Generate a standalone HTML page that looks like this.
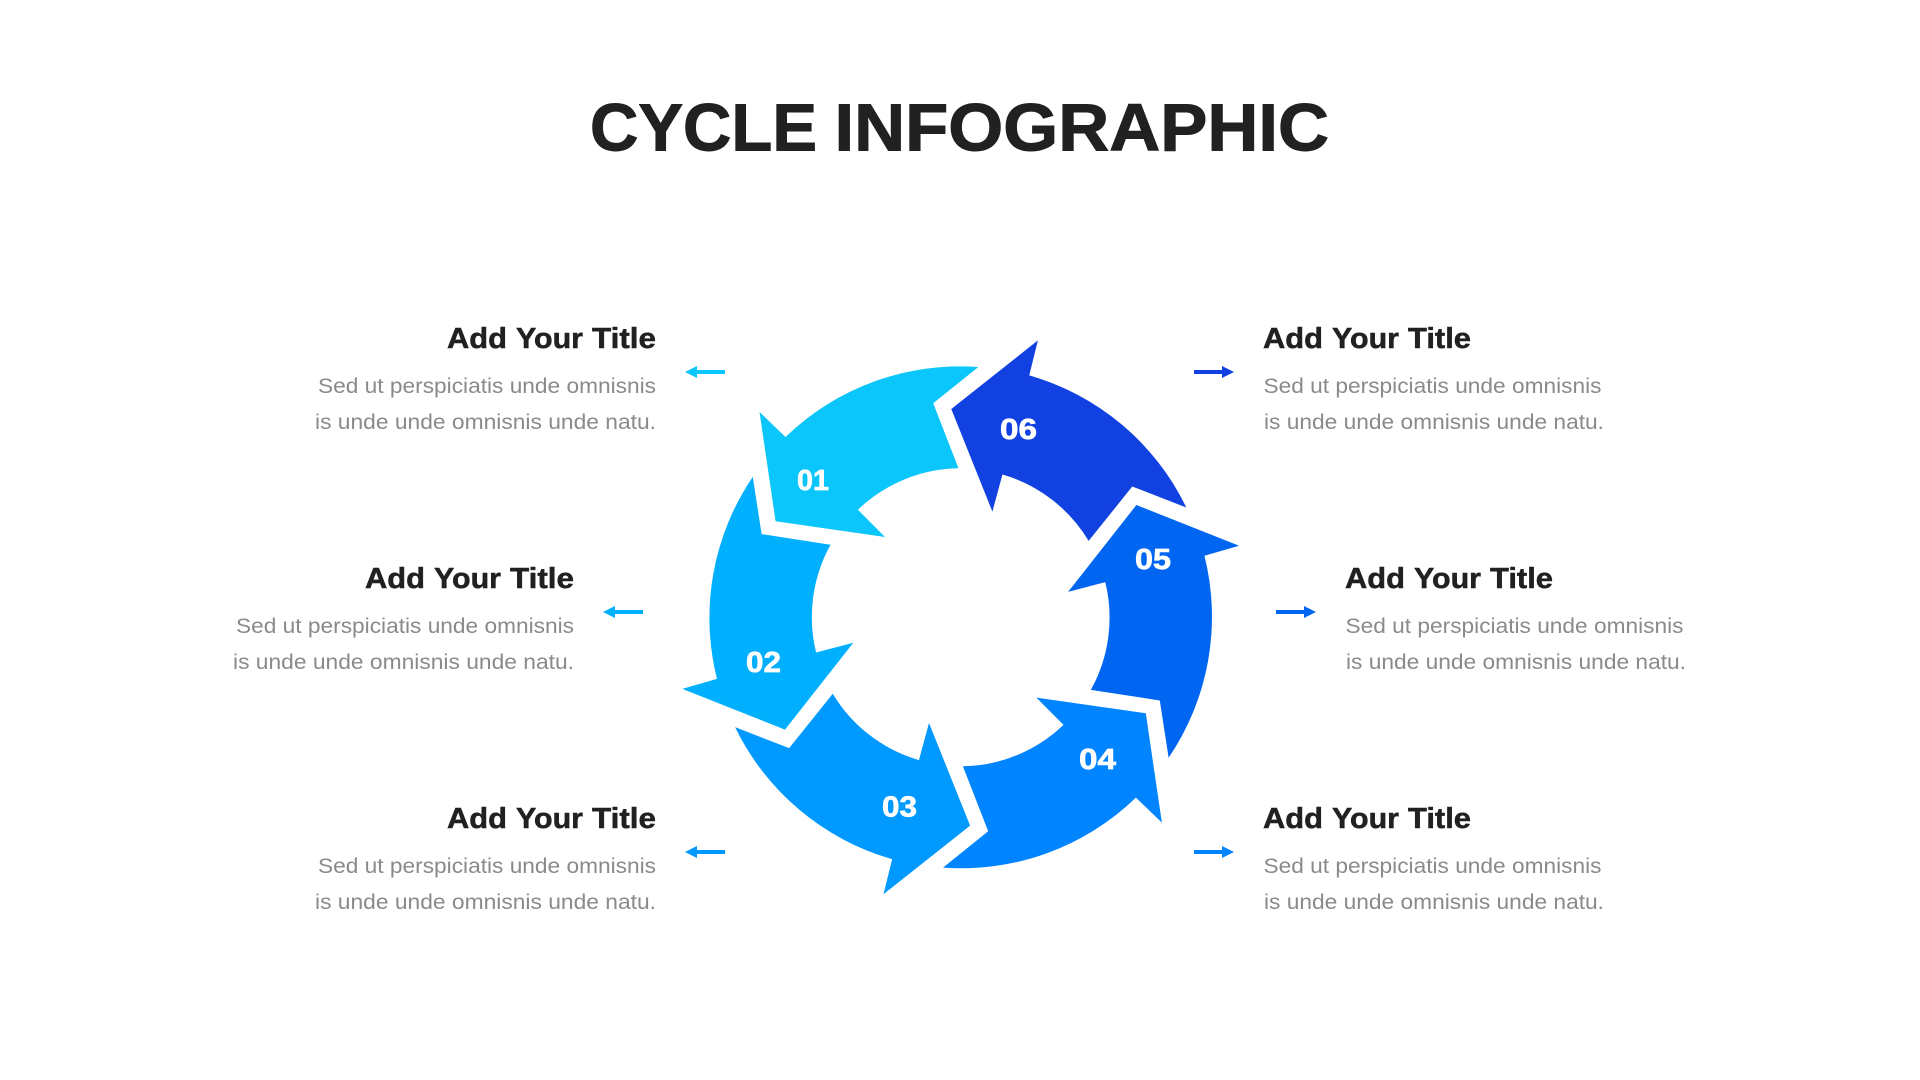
<!DOCTYPE html>
<html lang="en">
<head>
<meta charset="utf-8">
<title>Cycle Infographic</title>
<style>
html,body{margin:0;padding:0;background:#fff;width:1920px;height:1080px;overflow:hidden}
svg{display:block}
text{font-family:"Liberation Sans",sans-serif}
.t{font-size:67px;font-weight:bold;fill:#212121;stroke:#212121;stroke-width:1px}
.h{font-size:29px;font-weight:bold;fill:#212121;stroke:#212121;stroke-width:.5px}
.b{font-size:21.5px;fill:#8a8a8a}
.n{font-size:29px;font-weight:bold;fill:#fff;stroke:#fff;stroke-width:.7px}
</style>
</head>
<body>
<svg width="1920" height="1080" viewBox="0 0 1920 1080" xmlns="http://www.w3.org/2000/svg">
<defs>
<path id="s" d="M978.4 367 L933.2 403.3 L958.5 468.3 A149 149 0 0 0 857.9 509.7 L885 537 L775.6 521.3 L759.5 412 L785.5 437 A251 251 0 0 1 978.4 367 Z"/>
<path id="la" d="M0 0 L12 -6 L12 -2 L40 -2 L40 2 L12 2 L12 6 Z"/>
<path id="ra" d="M40 0 L28 -6 L28 -2 L0 -2 L0 2 L28 2 L28 6 Z"/>
</defs>

<text class="t" x="590" y="150.5" textLength="227" lengthAdjust="spacingAndGlyphs">CYCLE</text>
<text class="t" x="834.5" y="150.5" textLength="494.5" lengthAdjust="spacingAndGlyphs">INFOGRAPHIC</text>

<use href="#s" fill="#0bc6fb"/>
<use href="#s" fill="#1141e0" transform="rotate(60 960.7 617.3)"/>
<use href="#s" fill="#0066f2" transform="rotate(120 960.7 617.3)"/>
<use href="#s" fill="#0084ff" transform="rotate(180 960.7 617.3)"/>
<use href="#s" fill="#0099ff" transform="rotate(240 960.7 617.3)"/>
<use href="#s" fill="#00b0ff" transform="rotate(300 960.7 617.3)"/>

<text class="n" x="797" y="490" textLength="32" lengthAdjust="spacingAndGlyphs">01</text>
<text class="n" x="746" y="672" textLength="35" lengthAdjust="spacingAndGlyphs">02</text>
<text class="n" x="882" y="816.5" textLength="35" lengthAdjust="spacingAndGlyphs">03</text>
<text class="n" x="1079" y="769" textLength="37" lengthAdjust="spacingAndGlyphs">04</text>
<text class="n" x="1135" y="569" textLength="36" lengthAdjust="spacingAndGlyphs">05</text>
<text class="n" x="1000" y="439" textLength="37" lengthAdjust="spacingAndGlyphs">06</text>

<use href="#la" x="685" y="372" fill="#0bc6fb"/>
<use href="#la" x="603" y="612" fill="#00b0ff"/>
<use href="#la" x="685" y="852" fill="#0099ff"/>
<use href="#ra" x="1194" y="372" fill="#1141e0"/>
<use href="#ra" x="1276" y="612" fill="#0066f2"/>
<use href="#ra" x="1194" y="852" fill="#0084ff"/>

<!-- left top -->
<g transform="translate(447 348)"><text class="h" x="0" textLength="60" lengthAdjust="spacingAndGlyphs">Add</text><text class="h" x="69" textLength="67" lengthAdjust="spacingAndGlyphs">Your</text><text class="h" x="145" textLength="64" lengthAdjust="spacingAndGlyphs">Title</text></g>
<text class="b" x="318" y="393" textLength="338" lengthAdjust="spacingAndGlyphs">Sed ut perspiciatis unde omnisnis</text>
<text class="b" x="315" y="429" textLength="341" lengthAdjust="spacingAndGlyphs">is unde unde omnisnis unde natu.</text>
<!-- left middle -->
<g transform="translate(365 588)"><text class="h" x="0" textLength="60" lengthAdjust="spacingAndGlyphs">Add</text><text class="h" x="69" textLength="67" lengthAdjust="spacingAndGlyphs">Your</text><text class="h" x="145" textLength="64" lengthAdjust="spacingAndGlyphs">Title</text></g>
<text class="b" x="236" y="633" textLength="338" lengthAdjust="spacingAndGlyphs">Sed ut perspiciatis unde omnisnis</text>
<text class="b" x="233" y="669" textLength="341" lengthAdjust="spacingAndGlyphs">is unde unde omnisnis unde natu.</text>
<!-- left bottom -->
<g transform="translate(447 828)"><text class="h" x="0" textLength="60" lengthAdjust="spacingAndGlyphs">Add</text><text class="h" x="69" textLength="67" lengthAdjust="spacingAndGlyphs">Your</text><text class="h" x="145" textLength="64" lengthAdjust="spacingAndGlyphs">Title</text></g>
<text class="b" x="318" y="873" textLength="338" lengthAdjust="spacingAndGlyphs">Sed ut perspiciatis unde omnisnis</text>
<text class="b" x="315" y="909" textLength="341" lengthAdjust="spacingAndGlyphs">is unde unde omnisnis unde natu.</text>
<!-- right top -->
<g transform="translate(1263 348)"><text class="h" x="0" textLength="60" lengthAdjust="spacingAndGlyphs">Add</text><text class="h" x="69" textLength="67" lengthAdjust="spacingAndGlyphs">Your</text><text class="h" x="145" textLength="63" lengthAdjust="spacingAndGlyphs">Title</text></g>
<text class="b" x="1263.5" y="393" textLength="338" lengthAdjust="spacingAndGlyphs">Sed ut perspiciatis unde omnisnis</text>
<text class="b" x="1264" y="429" textLength="340" lengthAdjust="spacingAndGlyphs">is unde unde omnisnis unde natu.</text>
<!-- right middle -->
<g transform="translate(1345 588)"><text class="h" x="0" textLength="60" lengthAdjust="spacingAndGlyphs">Add</text><text class="h" x="69" textLength="67" lengthAdjust="spacingAndGlyphs">Your</text><text class="h" x="145" textLength="63" lengthAdjust="spacingAndGlyphs">Title</text></g>
<text class="b" x="1345.5" y="633" textLength="338" lengthAdjust="spacingAndGlyphs">Sed ut perspiciatis unde omnisnis</text>
<text class="b" x="1346" y="669" textLength="340" lengthAdjust="spacingAndGlyphs">is unde unde omnisnis unde natu.</text>
<!-- right bottom -->
<g transform="translate(1263 828)"><text class="h" x="0" textLength="60" lengthAdjust="spacingAndGlyphs">Add</text><text class="h" x="69" textLength="67" lengthAdjust="spacingAndGlyphs">Your</text><text class="h" x="145" textLength="63" lengthAdjust="spacingAndGlyphs">Title</text></g>
<text class="b" x="1263.5" y="873" textLength="338" lengthAdjust="spacingAndGlyphs">Sed ut perspiciatis unde omnisnis</text>
<text class="b" x="1264" y="909" textLength="340" lengthAdjust="spacingAndGlyphs">is unde unde omnisnis unde natu.</text>
</svg>
</body>
</html>
